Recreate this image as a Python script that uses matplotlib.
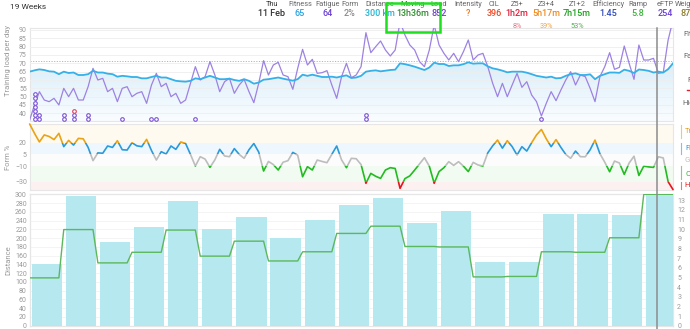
import matplotlib
matplotlib.use('Agg')
import matplotlib.pyplot as plt
import numpy as np
from matplotlib.patches import Rectangle
from matplotlib.lines import Line2D
from matplotlib.colors import LinearSegmentedColormap
import matplotlib.transforms as mtransforms

plt.rcParams['font.family'] = ['Roboto', 'DejaVu Sans']

# ---------------- data ----------------
fitness = [65, 65.8, 66.4, 66, 65.2, 65, 63.5, 65, 64.2, 64.5,
           63, 63, 63.5, 65.5, 64.5, 64.5, 63.8, 63.5, 62, 62.5,
           62.2, 61.8, 61.8, 61, 61, 61.8, 62.5, 61.5, 61.5, 60.5,
           59.5, 59.2, 59, 59.5, 61, 60.5, 61.5, 62.5, 61.5, 60.5,
           60.5, 60.8, 60, 59.5, 60.5, 59.5, 57.8, 58.5, 60.2, 60.5,
           61, 61.5, 60.8, 60.2, 59.6, 60.5, 63.2, 62.5, 63.2, 62.5,
           61.8, 61.8, 62, 61.5, 62.2, 62.8, 61.2, 61.5, 62.5, 65,
           65.5, 65.8, 65.2, 65.6, 66, 66.2, 70, 69.5, 68.8, 68,
           67, 66, 67.5, 70.4, 69.6, 69.6, 68.4, 68.8, 68.8, 69.5,
           70.6, 69.8, 70, 70, 68.2, 67, 66.4, 65.6, 64.6, 65,
           65, 65, 64.4, 63.5, 62.5, 62, 61.5, 62, 61, 61.2,
           62.5, 63.5, 64, 63, 63, 63.4, 60.5, 62.5, 63.5, 64.5,
           64.5, 64.3, 66.2, 65.5, 64.2, 66.3, 66, 65.5, 64.5, 65,
           64.5, 66.5, 70]

fatigue = [36, 45, 53, 48, 47, 49, 45, 55, 50, 55,
           48, 48, 56, 67, 60, 61, 53, 55, 47, 55,
           56, 50, 52, 53, 46, 57, 64, 56, 58, 50,
           52, 46, 48, 58, 68, 60, 62, 71, 63, 53,
           59, 61, 52, 57, 60.4, 53, 46.4, 58, 71.6, 63,
           69, 70.6, 63, 62, 54.4, 67, 78.4, 69, 72.4, 64,
           64.4, 65.6, 57, 49, 62, 70, 61.4, 63, 68, 88.4,
           76.4, 80, 83.4, 78, 74.4, 78, 95, 87, 81, 78,
           71, 68, 78, 93, 81, 76, 72, 76, 71, 77,
           84, 72, 75, 76, 68, 58, 50, 58, 50, 57,
           64, 55.6, 59, 51, 47, 38.4, 46, 53, 47.6, 54,
           60, 65, 57, 63, 62, 55, 47, 62, 68, 76.4,
           66.4, 67.6, 80.4, 70, 60.4, 81, 72, 72, 73, 64,
           64.5, 84, 96]

form = [44, 32, 21, 30, 28, 24, 32, 15, 23, 17,
        25.6, 25, 14, -3, 7, 6.5, 15.8, 14, 22.6, 11,
        10.6, 20, 16, 15, 24.3, 10, -2.2, 8.5, 5.5, 15.8,
        11.5, 21, 19, 5, -9.9, 2.1, -1, -11.6, -2, 11.5,
        3, 2.1, 12.5, 5, 0, 11, 19, 8, -16.3, -4,
        -8, -15, -5, -3, 7.6, 4, -23.6, -10.7, -15, -2.2,
        -4, -5.6, 5, 15.8, -2, -12, 0, -0.5, -8, -32,
        -19.3, -23, -25.7, -15, -12, -13, -38.5, -26, -22.5, -15,
        -7, 0.8, -10, -32, -17, -12, -4.3, -9, -4.3, -10,
        -17, -5.2, -8.5, -9.9, 7, 16, 23.4, 13, 22.6, 15,
        4.2, 14.9, 9.3, 20, 30, 37, 25, 14.9, 24, 14,
        5, 0, 9.3, 2.1, 2, 11, 23.4, 6, -5, -17.2,
        -3.5, -6, -20.6, -6, 2.7, -22, -10, -11, -11.6, 2,
        0.5, -30, -40]

threshold_load = 71.4
today = 128.7

# activity markers: day -> stack of ring colours
ring_days = [1, 2, 7, 9, 12, 19, 25, 26, 34, 69, 105]
ring_stacks = [['p'] * 7, ['p'] * 2, ['p'] * 2, ['p', 'p', 'r'], ['p'] * 2,
               ['p'], ['p'], ['p'], ['p'], ['p'] * 2, ['p']]

weekly_distance = [140, 295, 190, 225, 285, 221, 249, 201, 241, 276,
                   291, 235, 263, 146, 145, 255, 256, 252, 300]
weekly_hours = [4.95, 9.95, 6.5, 7.6, 9.9, 7.2, 8.75, 6.7, 7.65, 9.55,
                10.3, 8.2, 8.15, 5.05, 5.1, 7.65, 7.6, 9.1, 13.6]

header_labels = ['Thu', 'Fitness', 'Fatigue', 'Form', 'Distance', 'Moving', 'Load',
                 'Intensity', 'CIL', 'Z5+', 'Z3+4', 'Z1+2', 'Efficiency', 'Ramp',
                 'eFTP', 'Weight']
header_values = ['11 Feb', '65', '64', '2%', '300 km', '13h36m', '852', '?', '396',
                 '1h2m', '5h17m', '7h15m', '1.45', '5.8', '254', '87']
header_pcts = ['', '', '', '', '', '', '', '', '', '8%', '39%', '53%', '', '', '', '']
header_value_colors = ['#333333', '#2aa3df', '#6a3fd2', '#8a8a8a', '#22b4d4', '#2e8b2e',
                       '#6a3fd2', '#f07a1a', '#f0441f', '#e0203c', '#f08a1e', '#1fa01f',
                       '#2f49b8', '#3cb43c', '#6a3fd2', '#8c7a2a']
header_pct_colors = ['#f07080', '#f0a040', '#50b050']
header_x = [272, 300, 328, 350, 380, 413, 439, 468, 494, 517, 546, 577, 608, 638, 665, 686]

zones = [(20, 100, '#e8a317', '#fffaf0', 'Transition'),
         (5, 20, '#2a9ad8', '#eef7fd', 'Fresh'),
         (-10, 5, '#bdbdbd', '#fcfcfc', 'Grey zone'),
         (-30, -10, '#22bb22', '#f2fbf2', 'Optimal'),
         (-100, -30, '#e8141c', '#fdf0f0', 'High risk')]

# ---------------- figure ----------------
W, H = 690, 329
fig = plt.figure(figsize=(W / 100, H / 100), dpi=100)


def rect(x0, y0, x1, y1):
    return [x0 / W, 1 - y1 / H, (x1 - x0) / W, (y1 - y0) / H]


XL, XR = 29.64, 673
ax1 = fig.add_axes(rect(XL, 28, XR, 121.5))
ax2 = fig.add_axes(rect(XL, 124, XR, 190))
ax3 = fig.add_axes(rect(XL, 194.3, XR, 325.7))
ax3r = ax3.twinx()

days = np.arange(len(fitness))
tick_col = '#9a9a9a'
for ax in (ax1, ax2, ax3, ax3r):
    ax.set_xlim(0, 132)
    ax.set_xticks([])
    for s in ax.spines.values():
        s.set_color('#e6e6e6')
        s.set_linewidth(0.8)
    ax.tick_params(axis='y', length=0, labelsize=5, colors=tick_col, pad=2)

# ---- top panel ----
ax1.set_ylim(35.1, 91.2)
ax1.set_yticks(range(40, 91, 5))
ax1.grid(axis='y', color='#eeeeee', lw=0.6, zorder=2)
ax1.set_axisbelow(False)
ax1.axhline(threshold_load, color='#b5b5b5', lw=0.7, ls=(0, (1.2, 1.5)), zorder=2.5)
poly = ax1.fill_between(days, fitness, 35.1, color='none', lw=0)
cmap = LinearSegmentedColormap.from_list('fit', ['#fafdff', '#d9eefa'])
grad = np.linspace(0, 1, 256).reshape(-1, 1)
im = ax1.imshow(grad, extent=[0, 132, 35.1, max(fitness)], origin='lower', cmap=cmap,
                aspect='auto', zorder=1)
im.set_clip_path(poly.get_paths()[0], ax1.transData)
ax1.set_ylim(35.1, 91.2)
ax1.set_xlim(0, 132)
ax1.plot(days, fatigue, color='#9d82e2', lw=0.9, zorder=3)
ax1.plot(days, fitness, color='#35b0e8', lw=1.3, zorder=4)
for d, stack in zip(ring_days, ring_stacks):
    for k, c in enumerate(stack):
        ax1.plot(d, 36.4 + 2.52 * k, 'o', ms=2.6, mfc='white',
                 mec='#7a52d8' if c == 'p' else '#e0405a', mew=0.8, zorder=5, clip_on=False)

# ---- form panel ----
ax2.set_ylim(-40.6, 44)
ax2.set_yticks([20, 5, -10, -30])
for lo, hi, lc, bg, name in zones:
    ax2.axhspan(lo, hi, color=bg, lw=0, zorder=0)
    ln, = ax2.plot(days, form, color=lc, lw=1.2, zorder=3, solid_capstyle='round')
    clip = Rectangle((-5, lo), 142, hi - lo, transform=ax2.transData)
    ln.set_clip_path(clip)

# ---- distance panel ----
week_idx = np.arange(len(weekly_distance))
ax3.set_ylim(0, 300)
ax3.set_yticks(range(0, 301, 20))
ax3.grid(axis='y', color='#f3f3f3', lw=0.6)
ax3.set_axisbelow(True)
ax3.bar(week_idx * 7 + 3.5, weekly_distance, width=6.2, color='#b5e8ef', zorder=2)
ax3r.set_ylim(0, 13.6)
ax3r.set_yticks(range(0, 14))
ax3r.tick_params(axis='y', pad=3)
wx, wy = [], []
for i, h in enumerate(weekly_hours):
    wx += [7 * i, 7 * i + 6]
    wy += [h, h]
ax3r.plot(wx, wy, color='#5cb85c', lw=1.0, zorder=3)

# today line across all panels
trans = mtransforms.blended_transform_factory(ax1.transData, fig.transFigure)
fig.add_artist(Line2D([today, today], [0, 1 - 28 / H], transform=trans,
                      color='#8c8c8c', lw=1.1, zorder=10))

# ---------------- texts ----------------
fig.text(10 / W, 1 - 7 / H, '19 Weeks', ha='left', va='center', fontsize=6, color='#333333')
for i, (lab, val, x) in enumerate(zip(header_labels, header_values, header_x)):
    fig.text(x / W, 1 - 4.5 / H, lab, ha='center', va='center', fontsize=5.3,
             color='#333333' if i == 0 else '#666666')
    fig.text(x / W, 1 - 14 / H, val, ha='center', va='center', fontsize=6.5,
             color=header_value_colors[i], fontweight='medium')
pi = 0
for pct, x in zip(header_pcts, header_x):
    if pct:
        fig.text(x / W, 1 - 26 / H, pct, ha='center', va='center', fontsize=5.2,
                 color=header_pct_colors[pi])
        pi += 1
fig.add_artist(Rectangle((386 / W, 1 - 31.5 / H), 54 / W, 29 / H, transform=fig.transFigure,
                         fill=False, ec='#1fe01f', lw=1.8, zorder=20))

fig.text(8 / W, 1 - 60 / H, 'Training load per day', rotation=90, ha='center', va='center',
         fontsize=5.5, color='#9a9a9a')
fig.text(8 / W, 1 - 157 / H, 'Form %', rotation=90, ha='center', va='center',
         fontsize=5.5, color='#9a9a9a')
fig.text(8 / W, 1 - 260 / H, 'Distance', rotation=90, ha='center', va='center',
         fontsize=5.5, color='#9a9a9a')

# clipped legend column on the right (cut by the figure edge, as in the reference)
fig.text(683 / W, 1 - 34 / H, 'Fitness', ha='left', va='center', fontsize=5.5, color='#666666')
fig.text(683 / W, 1 - 56 / H, 'Fatigue', ha='left', va='center', fontsize=5.5, color='#666666')
fig.text(687 / W, 1 - 80 / H, 'FTP', ha='left', va='center', fontsize=5.5, color='#666666')
fig.add_artist(Line2D([687 / W, 692 / W], [1 - 90 / H, 1 - 90 / H], transform=fig.transFigure,
                      color='#e0202a', lw=1.0))
fig.text(682 / W, 1 - 103 / H, 'Highlights', ha='left', va='center', fontsize=5.5, color='#666666')
zone_text_y = [131, 148, 160, 174, 185]
zone_bar = [(125, 138), (143, 154), None, (166, 179), (182, 189)]
for (lo, hi, lc, bg, name), ty, zb in zip(zones, zone_text_y, zone_bar):
    fig.text(685 / W, 1 - ty / H, name, ha='left', va='center', fontsize=5.5, color=lc)
    if zb:
        fig.add_artist(Line2D([681 / W, 681 / W], [1 - zb[0] / H, 1 - zb[1] / H],
                              transform=fig.transFigure, color=lc, lw=0.8, alpha=0.6))

fig.savefig('out.png', dpi=100)
